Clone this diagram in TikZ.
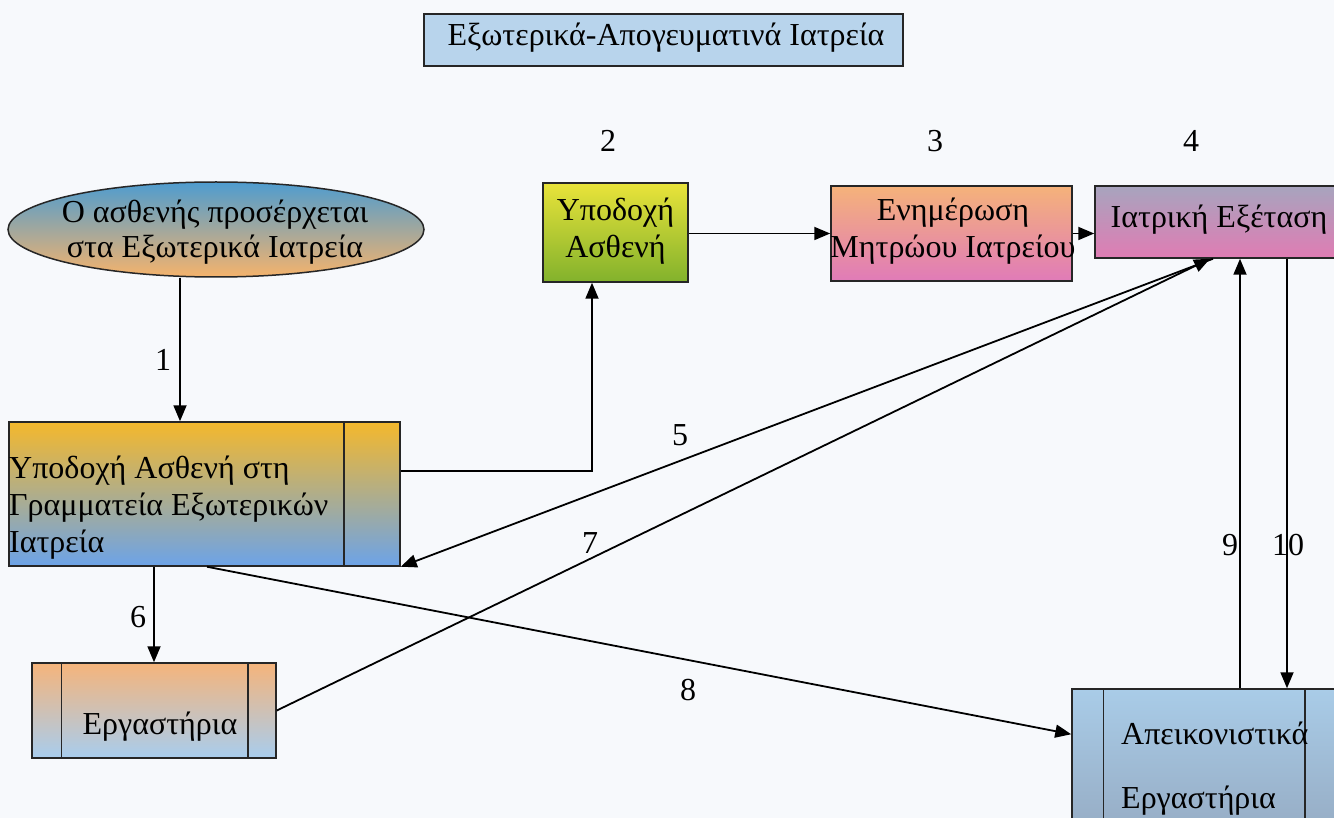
\documentclass[tikz,border=0pt]{standalone}
\usepackage{fontspec}
\setmainfont{Liberation Serif}
\usetikzlibrary{shapes.geometric,arrows.meta,calc,shadings}
\definecolor{bgc}{HTML}{F7F9FC}
\definecolor{titlefill}{HTML}{B8D4EC}
\definecolor{ellTop}{HTML}{4E9CCF}
\definecolor{ellBot}{HTML}{F5B36C}
\definecolor{recTop}{HTML}{E9E33A}
\definecolor{recBot}{HTML}{82B22C}
\definecolor{regTop}{HTML}{F5B27A}
\definecolor{regBot}{HTML}{E07BB8}
\definecolor{exTop}{HTML}{A7A4BE}
\definecolor{exBot}{HTML}{E07CB3}
\definecolor{secTop}{HTML}{F4B82C}
\definecolor{secBot}{HTML}{6CA3E8}
\definecolor{labTop}{HTML}{F5B47B}
\definecolor{labBot}{HTML}{A8CDEE}
\definecolor{imgTop}{HTML}{A9CCE8}
\definecolor{imgBot}{HTML}{96ACC4}
\begin{document}
\begin{tikzpicture}[x=1pt,y=-1pt,
  every node/.style={font=\fontsize{32}{37}\selectfont},
  box/.style={draw=black!85, line width=1.5pt, inner sep=0pt, rectangle},
  arr/.style={line width=1.8pt, -{Triangle[length=16pt,width=13pt]}},
  inner line/.style={line width=1.5pt, draw=black!85},
  lbl/.style={inner sep=0pt},
  txt/.style={inner sep=0pt, align=center}]
\useasboundingbox (0,0) rectangle (1334,818);
\clip (0,0) rectangle (1334,818);
\fill[bgc] (0,0) rectangle (1334,818);

% title
\node[box, fill=titlefill, minimum width=479pt, minimum height=52pt] (title) at (663.5,40) {};
\node[lbl] (titletext) at (666,38) {Εξωτερικά-Απογευματινά Ιατρεία};

% start ellipse
\node[ellipse, draw=black!85, line width=1.5pt, inner sep=0pt, minimum width=416pt, minimum height=95pt,
      top color=ellTop, bottom color=ellBot] (start) at (216,229.5) {};
\node[txt, font=\fontsize{32}{35}\selectfont] (starttext) at (215,232) {Ο ασθενής προσέρχεται\\στα Εξωτερικά Ιατρεία};

% reception
\node[box, top color=recTop, bottom color=recBot, minimum width=145pt, minimum height=99pt] (recv) at (615.5,232.5) {};
\node[txt] (recvtext) at (615.5,231) {Υποδοχή\\Ασθενή};

% registry
\node[box, top color=regTop, bottom color=regBot, minimum width=241pt, minimum height=95pt] (reg) at (951.5,233.5) {};
\node[txt] (regtext) at (953,231) {Ενημέρωση\\Μητρώου Ιατρείου};

% exam
\node[box, top color=exTop, bottom color=exBot, minimum width=248pt, minimum height=72pt] (exam) at (1219,222) {};
\node[lbl] (examtext) at (1219,220) {Ιατρική Εξέταση};

% secretariat
\node[box, top color=secTop, bottom color=secBot, minimum width=391pt, minimum height=144pt] (sec) at (204.5,494) {};
\draw[inner line] ([xshift=-57pt]sec.north east) -- ([xshift=-57pt]sec.south east);
\node[lbl, anchor=west, align=left] (sectext) at (9,508) {Υποδοχή Ασθενή στη\\Γραμματεία Εξωτερικών\\Ιατρεία};

% labs
\node[box, top color=labTop, bottom color=labBot, minimum width=244pt, minimum height=95pt] (lab) at (154,710.5) {};
\draw[inner line] ([xshift=30pt]lab.north west) -- ([xshift=30pt]lab.south west);
\draw[inner line] ([xshift=-29pt]lab.north east) -- ([xshift=-29pt]lab.south east);
\node[lbl] (labtext) at (160,727) {Εργαστήρια};

% imaging labs
\node[box, top color=imgTop, bottom color=imgBot, minimum width=264pt, minimum height=144pt] (img) at (1204,761) {};
\draw[inner line] ([xshift=32pt]img.north west) -- ([xshift=32pt]img.south west);
\draw[inner line] ([xshift=-32pt]img.north east) -- ([xshift=-32pt]img.south east);
\node[lbl, anchor=west] (imgtext1) at (1121,733) {Απεικονιστικά};
\node[lbl, anchor=west] (imgtext2) at (1121,801) {Εργαστήρια};

% helper coordinates
\coordinate (x1) at (180,0);
\coordinate (x5) at (1213,0);
\coordinate (x9) at (1240,0);
\coordinate (x10) at (1287,0);
\coordinate (x8) at (207,0);

% connectors
\draw[arr] (start.south -| x1) -- (sec.north -| x1);
\draw[arr] ([yshift=23pt]sec.east) -| ([xshift=-23.5pt]recv.south);
\draw[arr] (recv.east |- reg.west) -- (reg.west);
\draw[arr] (reg.east) -- (reg.east -| exam.west);
\draw[arr] (exam.south -| x5) -- (sec.south east);
\draw[arr] (sec.south -| lab.north) -- (lab.north);
\draw[arr] (lab.east) -- ([xshift=-3pt]exam.south -| x5);
\draw[arr] (sec.south -| x8) -- ($(img.north west)+(0,46)$);
\draw[arr] (img.north -| x9) -- (exam.south -| x9);
\draw[arr] (exam.south -| x10) -- (img.north -| x10);

% labels
\node[lbl] (n1) at (163,360) {1};
\node[lbl] (n2) at (608,141) {2};
\node[lbl] (n3) at (935,141) {3};
\node[lbl] (n4) at (1191,141) {4};
\node[lbl] (n5) at (680,435) {5};
\node[lbl] (n6) at (138,617) {6};
\node[lbl] (n7) at (590,543) {7};
\node[lbl] (n8) at (688,690) {8};
\node[lbl] (n9) at (1230,545) {9};
\node[lbl] (n10) at (1288,545) {10};
\end{tikzpicture}
\end{document}
